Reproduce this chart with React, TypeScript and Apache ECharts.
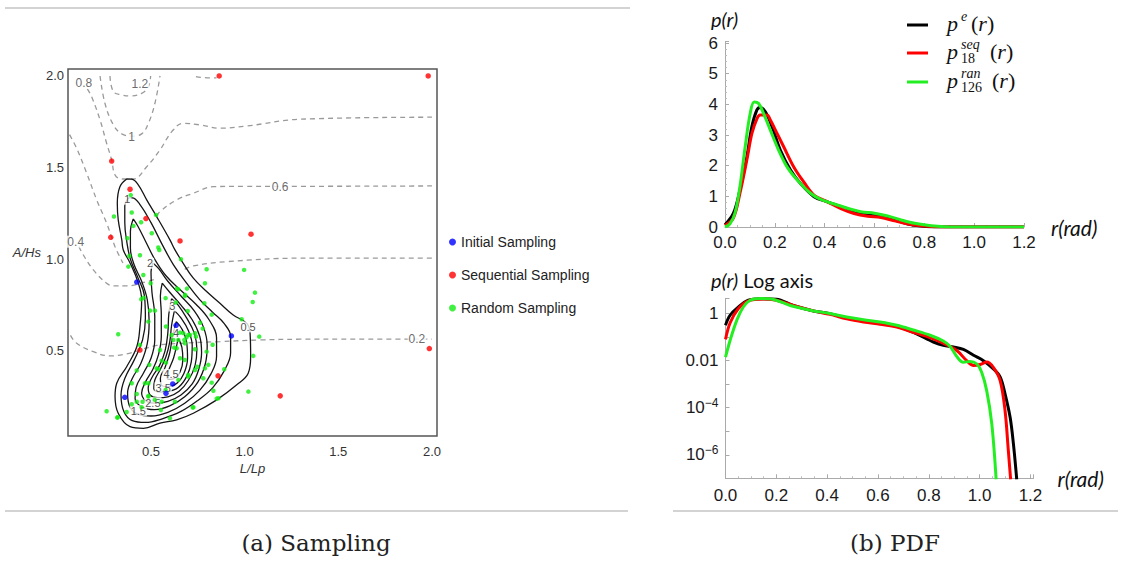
import React, { useEffect, useRef } from "react";
import * as echarts from "echarts";

// ---------- Panel (a): sampling points (L/Lp, A/Hs) ----------
const initialPts = [
  [0.424, 0.876], [0.634, 0.64], [0.929, 0.582], [0.616, 0.32], [0.58, 0.269], [0.36, 0.247],
];
const sequentialPts = [
  [0.864, 2.0], [1.98, 2.0], [0.29, 1.536], [0.388, 1.382], [0.473, 1.222], [0.285, 1.12],
  [0.655, 1.1], [1.034, 1.137], [0.441, 0.505], [0.858, 0.364], [1.19, 0.255], [1.986, 0.513],
];
const randomPts = [
  [0.384, 1.018], [0.441, 1.022], [0.66, 1.0], [0.379, 0.96], [0.797, 0.946], [0.997, 0.942],
  [0.498, 0.869], [0.788, 0.869], [0.646, 0.836], [1.055, 0.818], [0.448, 0.782], [0.682, 0.806],
  [0.785, 0.76], [1.043, 0.767], [0.633, 0.764], [0.495, 0.72], [0.521, 0.72], [0.696, 0.718],
  [0.824, 0.698], [0.486, 0.66], [0.984, 0.673], [0.762, 0.654], [0.58, 0.633], [0.776, 0.622],
  [0.325, 0.591], [0.655, 0.6], [0.708, 0.587], [0.69, 0.575], [0.678, 0.56], [0.74, 0.578],
  [0.829, 0.534], [1.078, 0.578], [0.441, 0.533], [0.619, 0.56], [0.637, 0.515], [0.548, 0.505],
  [0.797, 0.496], [0.58, 0.436], [0.491, 0.424], [0.53, 0.405], [0.747, 0.414], [0.788, 0.405],
  [0.424, 0.393], [0.699, 0.369], [0.891, 0.4], [1.046, 0.473], [0.779, 0.351], [0.397, 0.324],
  [0.486, 0.324], [0.824, 0.327], [1.02, 0.278], [0.833, 0.283], [0.424, 0.265], [0.486, 0.251],
  [0.397, 0.209], [0.455, 0.223], [0.557, 0.223], [0.628, 0.223], [0.851, 0.24], [0.37, 0.167],
  [0.263, 0.171], [0.32, 0.136], [0.601, 0.133], [0.723, 0.191], [0.553, 0.178],
  [0.392, 1.35], [0.397, 1.255], [0.302, 1.233], [0.527, 1.242], [0.447, 1.202], [0.406, 1.182],
  [0.504, 1.142], [0.374, 1.115], [0.539, 1.064], [0.544, 1.051], [0.639, 0.84], [0.692, 0.84],
  [0.681, 0.8], [0.46, 0.79], [0.578, 0.788], [0.459, 0.914],
  [0.61, 0.587], [0.672, 0.597], [0.699, 0.587], [0.735, 0.597], [0.646, 0.56], [0.681, 0.542],
  [0.624, 0.518], [0.735, 0.509], [0.655, 0.46], [0.681, 0.451], [0.557, 0.447], [0.806, 0.424],
  [0.539, 0.4], [0.735, 0.396], [0.699, 0.36], [0.646, 0.342], [0.468, 0.324], [0.578, 0.287],
  [0.486, 0.255], [0.424, 0.223], [0.52, 0.233], [0.86, 0.242], [0.45, 0.193], [0.726, 0.193],
  [0.322, 0.138],
];

// density contours (solid)
const dens05 = [
  [0.37, 1.438], [0.334, 1.396], [0.32, 1.306], [0.325, 1.215], [0.344, 1.106], [0.352, 1.051],
  [0.388, 0.98], [0.432, 0.871], [0.45, 0.778], [0.441, 0.633], [0.424, 0.523], [0.37, 0.414],
  [0.317, 0.324], [0.308, 0.251], [0.325, 0.16], [0.388, 0.087], [0.459, 0.078], [0.548, 0.106],
  [0.637, 0.124], [0.726, 0.16], [0.851, 0.233], [0.958, 0.315], [1.019, 0.378], [1.032, 0.469],
  [1.029, 0.597], [1.011, 0.651], [0.939, 0.696], [0.868, 0.76], [0.797, 0.824], [0.726, 0.897],
  [0.672, 0.978], [0.628, 1.051], [0.601, 1.106], [0.53, 1.233], [0.477, 1.324], [0.432, 1.406],
  [0.397, 1.437],
];
const dens10 = [
  [0.38, 1.335], [0.36, 1.29], [0.36, 1.2], [0.37, 1.1], [0.39, 1.0], [0.43, 0.9], [0.465, 0.8],
  [0.47, 0.68], [0.455, 0.56], [0.41, 0.45], [0.36, 0.35], [0.34, 0.26], [0.355, 0.17], [0.4, 0.12],
  [0.47, 0.11], [0.56, 0.13], [0.66, 0.17], [0.75, 0.23], [0.83, 0.3], [0.89, 0.39], [0.925, 0.49],
  [0.925, 0.58], [0.89, 0.65], [0.83, 0.71], [0.76, 0.78], [0.69, 0.87], [0.62, 0.97], [0.56, 1.08],
  [0.5, 1.2], [0.44, 1.3], [0.4, 1.335],
];
const dens15 = [
  [0.405, 1.22], [0.39, 1.15], [0.39, 1.06], [0.41, 0.97], [0.45, 0.88], [0.48, 0.78], [0.49, 0.66],
  [0.48, 0.54], [0.445, 0.43], [0.4, 0.35], [0.375, 0.27], [0.385, 0.2], [0.43, 0.155], [0.5, 0.145],
  [0.59, 0.165], [0.68, 0.215], [0.76, 0.285], [0.82, 0.375], [0.85, 0.47], [0.85, 0.57], [0.81, 0.67],
  [0.74, 0.755], [0.66, 0.83], [0.58, 0.91], [0.52, 1.0], [0.47, 1.1], [0.43, 1.18],
];
const dens20 = [
  [0.51, 0.98], [0.5, 0.93], [0.505, 0.82], [0.52, 0.69], [0.52, 0.56], [0.5, 0.46], [0.46, 0.38],
  [0.42, 0.3], [0.415, 0.24], [0.45, 0.195], [0.52, 0.18], [0.6, 0.2], [0.68, 0.25], [0.75, 0.33],
  [0.79, 0.43], [0.8, 0.53], [0.78, 0.63], [0.73, 0.72], [0.66, 0.8], [0.59, 0.88], [0.54, 0.95],
];
const dens25 = [
  [0.56, 0.87], [0.55, 0.8], [0.555, 0.7], [0.555, 0.58], [0.54, 0.48], [0.51, 0.4], [0.47, 0.33],
  [0.45, 0.27], [0.47, 0.23], [0.52, 0.215], [0.59, 0.225], [0.66, 0.26], [0.72, 0.32], [0.755, 0.4],
  [0.77, 0.49], [0.76, 0.58], [0.72, 0.67], [0.66, 0.75], [0.6, 0.82],
];
const dens30 = [
  [0.61, 0.785], [0.595, 0.7], [0.59, 0.6], [0.575, 0.5], [0.545, 0.42], [0.505, 0.355], [0.485, 0.3],
  [0.495, 0.26], [0.535, 0.245], [0.59, 0.25], [0.65, 0.28], [0.7, 0.34], [0.735, 0.42], [0.745, 0.51],
  [0.73, 0.6], [0.69, 0.68], [0.645, 0.75],
];
const dens35 = [
  [0.625, 0.72], [0.61, 0.64], [0.6, 0.55], [0.58, 0.47], [0.55, 0.4], [0.52, 0.34], [0.515, 0.295],
  [0.545, 0.275], [0.59, 0.278], [0.645, 0.3], [0.69, 0.36], [0.715, 0.44], [0.72, 0.53], [0.7, 0.61],
  [0.66, 0.68],
];
const dens40 = [
  [0.635, 0.66], [0.615, 0.58], [0.6, 0.49], [0.575, 0.41], [0.55, 0.35], [0.555, 0.315], [0.59, 0.305],
  [0.64, 0.325], [0.675, 0.375], [0.695, 0.46], [0.69, 0.55], [0.665, 0.62],
];
const dens45 = [
  [0.645, 0.57], [0.635, 0.52], [0.62, 0.46], [0.6, 0.41], [0.585, 0.365], [0.595, 0.345], [0.625, 0.35],
  [0.655, 0.385], [0.67, 0.45], [0.665, 0.52],
];
const densLabels = [
  ["0.5", 1.018, 0.631], ["1", 0.374, 1.328], ["1.5", 0.432, 0.174], ["2", 0.495, 0.978],
  ["2.5", 0.51, 0.218], ["3", 0.614, 0.745], ["3.5", 0.565, 0.3], ["4", 0.634, 0.597], ["4.5", 0.607, 0.372],
];

// second field contours (dashed)
const field02 = [
  [0.07, 0.585], [0.103, 0.542], [0.192, 0.496], [0.281, 0.473], [0.37, 0.484], [0.441, 0.505],
  [0.53, 0.53], [0.65, 0.541], [0.868, 0.551], [1.082, 0.56], [1.296, 0.564], [1.6, 0.565], [2.0, 0.565],
];
const field04a = [
  [0.115, 1.07], [0.135, 1.03], [0.192, 0.942], [0.263, 0.869], [0.299, 0.855], [0.37, 0.855], [0.477, 0.878], [0.52, 0.89],
];
const field04b = [
  [0.68, 0.945], [0.726, 0.964], [0.904, 0.987], [1.296, 1.006], [2.0, 1.006],
];
const field06a = [
  [0.065, 1.68], [0.103, 1.605], [0.157, 1.469], [0.21, 1.324], [0.263, 1.197], [0.308, 1.069], [0.35, 0.98],
];
const field06b = [
  [0.53, 1.235], [0.548, 1.26], [0.637, 1.324], [0.726, 1.36], [0.833, 1.396], [1.0, 1.398], [1.189, 1.398], [2.0, 1.4],
];
const field08 = [
  [0.16, 1.93], [0.183, 1.887], [0.228, 1.76], [0.263, 1.633], [0.29, 1.542], [0.308, 1.46], [0.344, 1.438],
  [0.405, 1.438], [0.477, 1.505], [0.548, 1.597], [0.611, 1.696], [0.672, 1.742], [0.762, 1.733],
  [0.868, 1.715], [1.011, 1.727], [1.296, 1.764], [2.0, 1.775],
];
const field10 = [
  [0.228, 2.0], [0.254, 1.851], [0.299, 1.733], [0.344, 1.684], [0.397, 1.672], [0.45, 1.684], [0.486, 1.742],
  [0.521, 1.851], [0.548, 2.0],
];
const field12 = [
  [0.281, 2.0], [0.299, 1.915], [0.344, 1.897], [0.388, 1.891], [0.45, 1.905], [0.486, 1.942], [0.498, 2.0],
];
const field14 = [[0.74, 1.997], [0.8, 1.99], [0.85, 1.99]];
const fieldLabels = [
  ["0.8", 0.142, 1.962], ["1.2", 0.441, 1.957], ["1", 0.397, 1.669], ["0.6", 1.189, 1.396],
  ["0.4", 0.098, 1.096], ["0.2", 1.92, 0.564],
];

const xTicksA = [0.5, 1.0, 1.5, 2.0];
const yTicksA = [0.5, 1.0, 1.5, 2.0];

// ---------- Panel (b): PDF, linear ----------
const peLinR = [0, 0.034, 0.06, 0.088, 0.108, 0.128, 0.141, 0.162, 0.189, 0.222, 0.263, 0.303, 0.357, 0.411, 0.465, 0.518, 0.573, 0.626, 0.68, 0.734, 0.788, 0.842, 0.9, 1.0, 1.1, 1.2];
const peLinP = [0.07, 0.45, 1.21, 2.3, 3.28, 3.82, 3.9, 3.76, 3.27, 2.51, 1.86, 1.42, 0.99, 0.82, 0.66, 0.5, 0.39, 0.34, 0.23, 0.1, 0.03, 0.0, 0, 0, 0, 0];
const seqLinR = [0, 0.034, 0.06, 0.088, 0.108, 0.128, 0.141, 0.168, 0.182, 0.209, 0.236, 0.276, 0.316, 0.357, 0.411, 0.465, 0.518, 0.573, 0.626, 0.68, 0.734, 0.788, 0.842, 0.9, 1.0, 1.2];
const seqLinP = [0.05, 0.3, 1.1, 2.2, 3.05, 3.53, 3.65, 3.65, 3.49, 3.05, 2.61, 1.96, 1.47, 1.04, 0.82, 0.6, 0.44, 0.35, 0.31, 0.2, 0.1, 0.04, 0.01, 0, 0, 0];
const ranLinR = [0, 0.02, 0.04, 0.06, 0.081, 0.101, 0.117, 0.135, 0.155, 0.182, 0.215, 0.249, 0.29, 0.343, 0.384, 0.438, 0.492, 0.545, 0.6, 0.653, 0.707, 0.761, 0.828, 0.88, 1.0, 1.2];
const ranLinP = [0.0, 0.1, 0.45, 1.32, 2.62, 3.7, 4.08, 4.03, 3.7, 3.16, 2.51, 1.96, 1.53, 1.1, 0.9, 0.75, 0.61, 0.5, 0.45, 0.36, 0.23, 0.12, 0.04, 0.01, 0, 0];

// ---------- Panel (b): PDF, log axis ----------
const peLogR = [0, 0.018, 0.05, 0.09, 0.136, 0.2, 0.267, 0.346, 0.411, 0.477, 0.543, 0.608, 0.674, 0.739, 0.792, 0.818, 0.857, 0.897, 0.936, 0.976, 1.015, 1.054, 1.081, 1.1, 1.12, 1.133, 1.146];
const peLogP = [0.32, 0.85, 1.9, 3.7, 4.3, 4.1, 2.2, 1.3, 1.0, 0.65, 0.48, 0.4, 0.29, 0.16, 0.085, 0.062, 0.045, 0.038, 0.03, 0.017, 0.01, 0.0045, 0.002, 3.9e-4, 3.9e-5, 2.9e-6, 9e-8];
const seqLogR = [0, 0.018, 0.05, 0.09, 0.149, 0.2, 0.267, 0.346, 0.411, 0.477, 0.543, 0.608, 0.674, 0.739, 0.792, 0.857, 0.91, 0.949, 0.976, 1.002, 1.028, 1.054, 1.081, 1.1, 1.113, 1.122];
const seqLogP = [0.08, 0.4, 1.6, 3.5, 4.2, 3.7, 2.2, 1.3, 0.93, 0.6, 0.44, 0.35, 0.27, 0.16, 0.107, 0.055, 0.027, 0.01, 0.0062, 0.0069, 0.0087, 0.0052, 0.0014, 7.6e-5, 1.5e-6, 9e-8];
const ranLogR = [0, 0.018, 0.045, 0.07, 0.097, 0.136, 0.189, 0.255, 0.333, 0.411, 0.477, 0.543, 0.608, 0.674, 0.739, 0.805, 0.857, 0.884, 0.91, 0.936, 0.962, 0.989, 1.008, 1.028, 1.048, 1.065];
const ranLogP = [0.014, 0.072, 0.54, 1.9, 3.7, 4.4, 4.0, 2.2, 1.4, 1.0, 0.72, 0.55, 0.44, 0.32, 0.2, 0.12, 0.068, 0.04, 0.015, 0.0085, 0.0093, 0.0072, 0.0032, 5.2e-4, 2e-5, 9e-8];

const zip = (a: number[], b: number[]) => a.map((v, i) => [v, b[i]]);
const zipLog = (a: number[], b: number[]) => a.map((v, i) => [v, Math.log10(b[i])]);

const SANS = "Liberation Sans, Arial, sans-serif";
const SERIF = "Liberation Serif, Times New Roman, serif";

export default function App() {
  const ref = useRef<HTMLDivElement>(null);
  useEffect(() => {
    const chart = echarts.init(ref.current!, null, { renderer: "svg" });

    const solid = (name: string, pts: number[][]) => ({
      type: "line", name, xAxisIndex: 0, yAxisIndex: 0,
      data: [...pts, pts[0]], smooth: 0.4, symbol: "none", silent: true, z: 3,
      lineStyle: { color: "#151515", width: 1.3 },
    });
    const dashed = (name: string, pts: number[][]) => ({
      type: "line", name, xAxisIndex: 0, yAxisIndex: 0,
      data: pts, smooth: 0.4, symbol: "none", silent: true, z: 2,
      lineStyle: { color: "#9a9a9a", width: 1.3, type: [5, 4] },
    });
    const labelSeries = (name: string, items: any[], color: string, size: number) => ({
      type: "scatter", name, xAxisIndex: 0, yAxisIndex: 0, silent: true, z: 4,
      symbolSize: 1, itemStyle: { color: "rgba(0,0,0,0)" },
      data: items.map((l) => [l[1], l[2], l[0]]),
      encode: { x: 0, y: 1 },
      label: {
        show: true, position: "inside", formatter: (p: any) => p.value[2],
        color, fontSize: size, fontFamily: SANS, backgroundColor: "#fff", padding: [0, 1],
        textBorderWidth: 0, textBorderColor: "transparent",
      },
    });
    const pdfLine = (name: string, idx: number, data: number[][], color: string, z: number) => ({
      type: "line", name, xAxisIndex: idx, yAxisIndex: idx, data, smooth: 0.35,
      symbol: "none", silent: true, z, lineStyle: { color, width: 3 },
    });

    const rightAxisLine = { onZero: false, lineStyle: { color: "#aaa", width: 1 } };
    const rightTick = { inside: true, length: 4, lineStyle: { color: "#aaa" } };
    const rightMinor = { show: true, splitNumber: 4, length: 2, lineStyle: { color: "#bbb" } };
    const rightLabel = { fontSize: 17, color: "#1a1a1a", fontFamily: SANS, margin: 7 };

    const legendRow = (y: number, color: string, sup: string, sub: string, rx: number) => {
      const els: any[] = [
        { type: "line", shape: { x1: 907, y1: y, x2: 928, y2: y }, style: { stroke: color, lineWidth: 3 } },
        { type: "text", x: 947, y: y - 2, style: { text: "p", font: `italic 22px ${SERIF}`, fill: "#111", verticalAlign: "middle" } },
        { type: "text", x: 961, y: y - 9, style: { text: sup, font: `italic 14px ${SERIF}`, fill: "#111", verticalAlign: "middle" } },
        {
          type: "text", x: rx, y: y - 2,
          style: {
            text: "{n|(}{i|r}{n|)}", verticalAlign: "middle", fill: "#111",
            rich: { n: { fontFamily: SERIF, fontSize: 22, fill: "#111" }, i: { fontFamily: SERIF, fontStyle: "italic", fontSize: 22, fill: "#111" } },
          },
        },
      ];
      if (sub) els.push({ type: "text", x: 961, y: y + 5, style: { text: sub, font: `14px ${SERIF}`, fill: "#111", verticalAlign: "middle" } });
      return els;
    };

    const option: any = {
      animation: false,
      backgroundColor: "#fff",
      title: [
        {
          text: "{i|p(r)}", left: 706, top: 4,
          textStyle: { rich: { i: { fontFamily: "Lato", fontStyle: "italic", fontWeight: "normal", fontSize: 20, color: "#111" } } },
        },
        {
          text: "{i|p(r)}{n| Log axis}", left: 706, top: 265,
          textStyle: {
            rich: {
              i: { fontFamily: "Lato", fontStyle: "italic", fontWeight: "normal", fontSize: 20, color: "#111" },
              n: { fontFamily: "Lato", fontWeight: "normal", fontSize: 20, color: "#111" },
            },
          },
        },
      ],
      legend: {
        data: ["Initial Sampling", "Sequential Sampling", "Random Sampling"],
        orient: "vertical", left: 444, top: 230, itemGap: 19, itemWidth: 7, itemHeight: 7, icon: "circle",
        textStyle: { fontSize: 14, color: "#222", fontFamily: SANS },
      },
      grid: [
        { left: 68, top: 69, width: 369, height: 367, show: true, borderColor: "#555", borderWidth: 1.5, backgroundColor: "transparent" },
        { left: 725, top: 41.5, width: 299, height: 185.5 },
        { left: 725.5, top: 298.3, width: 308, height: 180 },
      ],
      xAxis: [
        {
          type: "value", gridIndex: 0, min: 0.0568, max: 2.027,
          axisLine: { show: false }, axisTick: { show: false }, splitLine: { show: false },
          axisLabel: { customValues: xTicksA, formatter: (v: number) => v.toFixed(1), fontSize: 13, color: "#333", fontFamily: SANS, margin: 9 },
          name: "L/Lp", nameLocation: "middle", nameGap: 26, nameMoveOverlap: false,
          nameTextStyle: { fontStyle: "italic", fontSize: 13, color: "#333", fontFamily: SANS },
        },
        {
          type: "value", gridIndex: 1, min: 0, max: 1.2, interval: 0.2,
          axisLine: rightAxisLine, axisTick: rightTick, minorTick: rightMinor, splitLine: { show: false },
          axisLabel: { ...rightLabel, formatter: (v: number) => v.toFixed(1) },
          name: "r(rad)", nameLocation: "end", nameGap: 27,
          nameTextStyle: { fontStyle: "italic", fontSize: 21, color: "#111", fontFamily: "Lato" },
        },
        {
          type: "value", gridIndex: 2, min: 0, max: 1.212, interval: 0.2,
          axisLine: rightAxisLine, axisTick: rightTick, minorTick: rightMinor, splitLine: { show: false },
          axisLabel: { ...rightLabel, margin: 9, formatter: (v: number) => v.toFixed(1) },
          name: "r(rad)", nameLocation: "end", nameGap: 24,
          nameTextStyle: { fontStyle: "italic", fontSize: 21, color: "#111", fontFamily: "Lato" },
        },
      ],
      yAxis: [
        {
          type: "value", gridIndex: 0, min: 0.036, max: 2.038,
          axisLine: { show: false }, axisTick: { show: false }, splitLine: { show: false },
          axisLabel: { customValues: yTicksA, formatter: (v: number) => v.toFixed(1), fontSize: 13, color: "#333", fontFamily: SANS, margin: 4 },
          name: "A/Hs", nameLocation: "middle", nameGap: 27, nameRotate: 0, nameMoveOverlap: false,
          nameTextStyle: { fontStyle: "italic", fontSize: 13, color: "#333", fontFamily: SANS, align: "right" },
        },
        {
          type: "value", gridIndex: 1, min: 0, max: 6.05, interval: 1,
          axisLine: { show: true, ...rightAxisLine }, axisTick: rightTick,
          minorTick: { ...rightMinor, splitNumber: 5 }, splitLine: { show: false },
          axisLabel: { ...rightLabel, showMaxLabel: false, formatter: (v: number) => (v > 6.01 ? "" : String(Math.round(v))) },
        },
        {
          type: "value", gridIndex: 2, min: -7, max: 0.65, interval: 1,
          axisLine: { show: true, ...rightAxisLine }, axisTick: rightTick,
          minorTick: { show: false }, splitLine: { show: false },
          axisLabel: {
            ...rightLabel,
            formatter: (v: number) => {
              const e = Math.round(v);
              if (Math.abs(v - e) > 1e-6) return "";
              if (e === 0) return "1";
              if (e === -2) return "0.01";
              if (e === -4 || e === -6) return "10{sup|\u2212" + -e + "}";
              return "";
            },
            rich: { sup: { fontSize: 12, fontFamily: SANS, color: "#1a1a1a", padding: [0, 0, 9, 0] } },
          },
        },
      ],
      graphic: [
        { type: "line", shape: { x1: 5, y1: 8, x2: 630, y2: 8 }, style: { stroke: "#c4c4c4", lineWidth: 1.5 } },
        { type: "line", shape: { x1: 5, y1: 511, x2: 628, y2: 511 }, style: { stroke: "#c4c4c4", lineWidth: 1.5 } },
        { type: "line", shape: { x1: 673, y1: 511, x2: 1118, y2: 511 }, style: { stroke: "#c4c4c4", lineWidth: 1.5 } },
        { type: "text", x: 316, y: 543, style: { text: "(a) Sampling", font: `23px DejaVu Serif, serif`, fill: "#222", align: "center", verticalAlign: "middle" } },
        { type: "text", x: 895, y: 543, style: { text: "(b) PDF", font: `23px DejaVu Serif, serif`, fill: "#222", align: "center", verticalAlign: "middle" } },
        ...legendRow(25, "#000", "e", "", 971),
        ...legendRow(53, "#ff0000", "seq", "18", 990),
        ...legendRow(82, "#22ee22", "ran", "126", 992),
      ],
      series: [
        dashed("f0.2", field02), dashed("f0.4a", field04a), dashed("f0.4b", field04b),
        dashed("f0.6a", field06a), dashed("f0.6b", field06b), dashed("f0.8", field08),
        dashed("f1.0", field10), dashed("f1.2", field12), dashed("f1.4", field14),
        solid("d0.5", dens05), solid("d1", dens10), solid("d1.5", dens15), solid("d2", dens20),
        solid("d2.5", dens25), solid("d3", dens30), solid("d3.5", dens35), solid("d4", dens40), solid("d4.5", dens45),
        labelSeries("fieldLabels", fieldLabels, "#444", 12),
        labelSeries("densLabels", densLabels, "#222", 11),
        {
          type: "scatter", name: "Random Sampling", xAxisIndex: 0, yAxisIndex: 0, data: randomPts,
          symbolSize: 4.5, itemStyle: { color: "#11ee11" }, z: 6, silent: true,
        },
        {
          type: "scatter", name: "Sequential Sampling", xAxisIndex: 0, yAxisIndex: 0, data: sequentialPts,
          symbolSize: 5.5, itemStyle: { color: "#ff0000" }, z: 6, silent: true,
        },
        {
          type: "scatter", name: "Initial Sampling", xAxisIndex: 0, yAxisIndex: 0, data: initialPts,
          symbolSize: 5.5, itemStyle: { color: "#0000ff" }, z: 6, silent: true,
        },
        pdfLine("pe", 1, zip(peLinR, peLinP), "#000000", 3),
        pdfLine("p18seq", 1, zip(seqLinR, seqLinP), "#ff0000", 4),
        pdfLine("p126ran", 1, zip(ranLinR, ranLinP), "#22ee22", 5),
        pdfLine("pe log", 2, zipLog(peLogR, peLogP), "#000000", 3),
        pdfLine("p18seq log", 2, zipLog(seqLogR, seqLogP), "#ff0000", 4),
        pdfLine("p126ran log", 2, zipLog(ranLogR, ranLogP), "#22ee22", 5),
      ],
    };
    chart.setOption(option);
    return () => chart.dispose();
  }, []);
  return <div ref={ref} style={{ position: "fixed", left: 0, top: 0, width: 1121, height: 563 }} />;
}
